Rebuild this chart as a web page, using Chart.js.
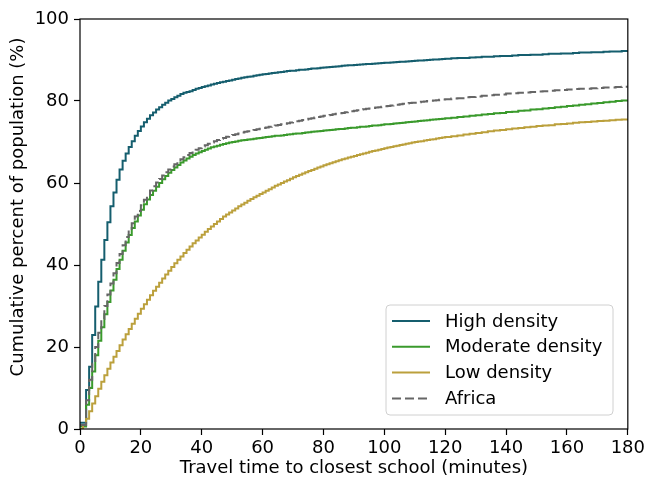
<!DOCTYPE html>
<html>
<head>
<meta charset="utf-8">
<script src="https://cdn.jsdelivr.net/npm/chart.js@4/dist/chart.umd.min.js"></script>
<style>
  html, body { margin: 0; padding: 0; background: #ffffff; }
  #wrap { width: 648px; height: 481px; position: relative; }
</style>
</head>
<body>
<div id="wrap"><canvas id="c" width="648" height="481"></canvas></div>
<script>
// Travel time (minutes) at which each cumulative value is read
const minutes = [
  0,1,2,3,4,5,6,7,8,9,10,11,12,13,14,15,16,17,18,19,20,21,22,23,24,25,26,27,28,29,30,
  31,32,33,34,35,36,37,38,39,40,41,42,43,44,45,46,47,48,49,50,
  51,52,53,54,55,56,57,58,59,60,61,62,63,64,65,66,67,68,69,70,
  71,72,73,74,75,76,77,78,79,80,81,82,83,84,85,86,87,88,89,90,
  91,92,93,94,95,96,97,98,99,100,
  101,102,103,104,105,106,107,108,109,110,111,112,113,114,115,116,117,118,119,120,
  122,124,126,128,130,132,134,136,138,140,
  142,144,146,148,150,152,154,156,158,160,
  162,164,166,168,170,172,174,176,178,180
];

const seriesLabels = ['High density', 'Moderate density', 'Low density', 'Africa'];

const highDensity = [
  1.5,1.5,9.5,15.2,22.9,29.9,35.9,41.3,46.1,50.4,54.3,57.7,60.8,63.3,65.4,67.2,68.8,70.2,71.5,72.7,73.8,74.8,75.7,76.5,77.2,77.9,78.5,79.1,79.6,80.1,80.5,
  80.9,81.3,81.7,82.0,82.2,82.4,82.7,83.0,83.2,83.4,83.6,83.8,84.0,84.2,84.4,84.6,84.7,84.9,85.0,85.2,
  85.35,85.5,85.65,85.8,85.9,86.0,86.15,86.3,86.4,86.5,86.6,86.7,86.8,86.9,87.0,87.1,87.2,87.3,87.35,87.4,
  87.5,87.6,87.65,87.7,87.8,87.9,87.95,88.0,88.1,88.2,88.25,88.3,88.35,88.4,88.5,88.6,88.65,88.7,88.75,88.8,
  88.85,88.9,88.95,89.0,89.05,89.1,89.15,89.2,89.25,89.3,
  89.35,89.4,89.45,89.5,89.55,89.6,89.65,89.7,89.75,89.8,89.85,89.9,89.95,90.0,90.05,90.1,90.15,90.2,90.25,90.3,
  90.4,90.5,90.5,90.6,90.7,90.8,90.8,90.9,91.0,91.0,
  91.1,91.2,91.2,91.3,91.3,91.4,91.5,91.5,91.6,91.6,
  91.7,91.8,91.8,91.9,91.9,92.0,92.1,92.1,92.2,92.3
];

const moderateDensity = [
  0.6,0.6,5.9,10.0,14.0,18.0,21.5,24.8,28.0,31.0,33.8,36.4,39.0,41.3,43.5,45.5,47.3,49.0,50.6,52.1,53.5,54.8,56.0,57.1,58.1,59.1,60.0,60.9,61.7,62.5,63.2,
  63.8,64.4,65.0,65.5,66.0,66.4,66.8,67.2,67.5,67.8,68.1,68.4,68.7,68.9,69.1,69.3,69.5,69.7,69.85,70.0,
  70.15,70.3,70.4,70.5,70.6,70.7,70.8,70.9,71.0,71.1,71.2,71.3,71.4,71.5,71.55,71.6,71.7,71.8,71.9,72.0,
  72.05,72.1,72.2,72.3,72.4,72.5,72.55,72.6,72.7,72.8,72.85,72.9,73.0,73.1,73.15,73.2,73.3,73.4,73.45,73.5,
  73.6,73.7,73.75,73.8,73.9,74.0,74.05,74.1,74.2,74.3,
  74.35,74.4,74.5,74.6,74.65,74.7,74.8,74.9,74.95,75.0,75.1,75.2,75.25,75.3,75.4,75.5,75.55,75.6,75.7,75.8,
  75.9,76.1,76.2,76.4,76.5,76.7,76.8,77.0,77.1,77.3,
  77.4,77.6,77.7,77.9,78.0,78.2,78.3,78.5,78.6,78.8,
  78.9,79.1,79.2,79.4,79.5,79.7,79.8,80.0,80.1,80.2
];

const lowDensity = [
  0.0,1.0,2.5,4.3,6.2,8.0,9.8,11.5,13.1,14.7,16.2,17.6,19.0,20.4,21.8,23.1,24.4,25.7,26.9,28.1,29.3,30.4,31.5,32.6,33.7,34.7,35.7,36.7,37.7,38.6,39.5,
  40.4,41.3,42.1,42.9,43.7,44.5,45.3,46.0,46.7,47.4,48.1,48.8,49.4,50.0,50.6,51.2,51.8,52.3,52.8,53.3,
  53.8,54.3,54.75,55.2,55.65,56.1,56.5,56.9,57.3,57.7,58.1,58.5,58.9,59.3,59.65,60.0,60.35,60.7,61.05,61.4,
  61.7,62.0,62.3,62.6,62.9,63.2,63.5,63.8,64.05,64.3,64.55,64.8,65.05,65.3,65.55,65.8,66.0,66.2,66.4,66.6,
  66.8,67.0,67.2,67.4,67.6,67.8,67.95,68.1,68.3,68.5,
  68.65,68.8,68.95,69.1,69.25,69.4,69.55,69.7,69.85,70.0,70.1,70.2,70.35,70.5,70.6,70.7,70.85,71.0,71.1,71.2,
  71.4,71.6,71.8,72.0,72.2,72.4,72.6,72.8,72.9,73.1,
  73.3,73.4,73.6,73.7,73.9,74.0,74.1,74.3,74.4,74.5,
  74.7,74.8,74.9,75.0,75.1,75.2,75.3,75.4,75.5,75.6
];

const africa = [
  1.0,1.0,7.0,12.0,16.0,20.0,23.5,26.8,30.0,32.8,35.5,38.0,40.5,42.7,44.8,46.8,48.5,50.2,51.8,53.2,54.6,55.9,57.1,58.2,59.2,60.1,61.0,61.8,62.6,63.3,64.0,
  64.6,65.2,65.8,66.3,66.8,67.3,67.7,68.1,68.5,68.9,69.2,69.6,69.9,70.2,70.5,70.8,71.0,71.3,71.5,71.7,
  71.9,72.1,72.3,72.5,72.65,72.8,72.95,73.1,73.25,73.4,73.55,73.7,73.85,74.0,74.15,74.3,74.45,74.6,74.75,74.9,
  75.05,75.2,75.35,75.5,75.65,75.8,75.95,76.1,76.25,76.4,76.5,76.6,76.75,76.9,77.0,77.1,77.25,77.4,77.5,77.6,
  77.75,77.9,78.0,78.1,78.2,78.3,78.4,78.5,78.6,78.7,
  78.8,78.9,79.0,79.1,79.2,79.3,79.4,79.5,79.55,79.6,79.7,79.8,79.9,80.0,80.05,80.1,80.2,80.3,80.35,80.4,
  80.6,80.7,80.9,81.0,81.1,81.3,81.4,81.5,81.6,81.8,
  81.9,82.0,82.1,82.2,82.3,82.4,82.5,82.6,82.7,82.8,
  82.9,83.0,83.0,83.1,83.2,83.3,83.3,83.4,83.5,83.5
];

const xTicks = [0, 20, 40, 60, 80, 100, 120, 140, 160, 180];
const yTicks = [0, 20, 40, 60, 80, 100];

const xTitle = 'Travel time to closest school (minutes)';
const yTitle = 'Cumulative percent of population (%)';

const colors = ['#155e6e', '#3a9a2c', '#bba03c', '#666666'];
const FONT = "'DejaVu Sans', 'Liberation Sans', sans-serif";

function pts(arr) { return minutes.map((m, i) => ({ x: m, y: arr[i] })); }

const seriesValues = [highDensity, moderateDensity, lowDensity, africa];

const datasets = seriesValues.map((vals, i) => ({
  label: seriesLabels[i],
  data: pts(vals),
  borderColor: colors[i],
  backgroundColor: colors[i],
  borderWidth: 2,
  borderDash: i === 3 ? [9, 4] : [],
  stepped: true,
  pointRadius: 0,
  fill: false,
  order: 4 - i
}));

const framePlugin = {
  id: 'frameAndText',
  afterDraw(chart) {
    const ctx = chart.ctx;
    const a = chart.chartArea;
    ctx.save();
    ctx.strokeStyle = '#000';
    ctx.lineWidth = 1.2;
    ctx.strokeRect(a.left, a.top, a.right - a.left, a.bottom - a.top);

    ctx.fillStyle = '#000';
    ctx.font = '18px ' + FONT;
    ctx.textAlign = 'center';
    ctx.textBaseline = 'middle';
    ctx.fillText(xTitle, (a.left + a.right) / 2, 468);
    ctx.save();
    ctx.translate(18, 207);
    ctx.rotate(-Math.PI / 2);
    ctx.fillText(yTitle, 0, 0);
    ctx.restore();

    const bx = 386, by = 305, bw = 227, bh = 110, r = 4;
    ctx.beginPath();
    ctx.moveTo(bx + r, by);
    ctx.lineTo(bx + bw - r, by);
    ctx.arcTo(bx + bw, by, bx + bw, by + r, r);
    ctx.lineTo(bx + bw, by + bh - r);
    ctx.arcTo(bx + bw, by + bh, bx + bw - r, by + bh, r);
    ctx.lineTo(bx + r, by + bh);
    ctx.arcTo(bx, by + bh, bx, by + bh - r, r);
    ctx.lineTo(bx, by + r);
    ctx.arcTo(bx, by, bx + r, by, r);
    ctx.closePath();
    ctx.fillStyle = 'rgba(255,255,255,0.85)';
    ctx.fill();
    ctx.strokeStyle = '#d0d0d0';
    ctx.lineWidth = 1;
    ctx.stroke();

    ctx.textAlign = 'left';
    ctx.textBaseline = 'middle';
    chart.data.datasets.forEach((ds, i) => {
      const y = 321 + i * 25.8;
      ctx.beginPath();
      ctx.strokeStyle = ds.borderColor;
      ctx.lineWidth = 2;
      ctx.setLineDash(ds.borderDash || []);
      ctx.moveTo(392, y);
      ctx.lineTo(430, y);
      ctx.stroke();
      ctx.setLineDash([]);
      ctx.fillStyle = '#000';
      ctx.fillText(ds.label, 445, y + 1);
    });
    ctx.restore();
  }
};

new Chart(document.getElementById('c'), {
  type: 'line',
  data: { datasets },
  options: {
    responsive: false,
    animation: false,
    devicePixelRatio: 1,
    layout: { padding: { left: 0, top: 19, right: 19, bottom: 0 } },
    plugins: {
      legend: { display: false },
      tooltip: { enabled: false }
    },
    scales: {
      x: {
        type: 'linear',
        min: 0, max: 180,
        afterBuildTicks: (s) => { s.ticks = xTicks.map(v => ({ value: v })); },
        afterFit: (s) => { s.height = 52; },
        border: { display: false },
        grid: { display: true, drawOnChartArea: false, drawTicks: true, tickLength: 6, tickColor: '#000', tickWidth: 1.2 },
        ticks: { color: '#000', font: { family: FONT, size: 18 }, padding: 3, maxRotation: 0, autoSkip: false }
      },
      y: {
        type: 'linear',
        min: 0, max: 100,
        afterBuildTicks: (s) => { s.ticks = yTicks.map(v => ({ value: v })); },
        afterFit: (s) => { s.width = 80; },
        border: { display: false },
        grid: { display: true, drawOnChartArea: false, drawTicks: true, tickLength: 6, tickColor: '#000', tickWidth: 1.2 },
        ticks: { color: '#000', font: { family: FONT, size: 18 }, padding: 5, autoSkip: false }
      }
    }
  },
  plugins: [framePlugin]
});
</script>
</body>
</html>
